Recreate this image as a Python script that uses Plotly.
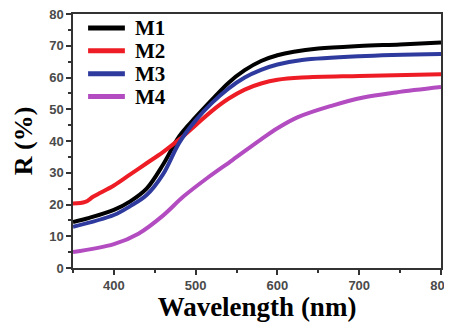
import plotly.graph_objects as go

wl_m1 = [350, 370, 400, 420, 440, 460, 480, 500, 520, 540, 560, 580, 600, 620, 650, 700, 750, 800]
r_m1 = [14.5, 15.8, 18.3, 21, 25, 32.5, 41.5, 47.5, 53, 58.3, 62.3, 65.2, 67, 68.1, 69.1, 69.9, 70.4, 71]

wl_m2 = [350, 365, 375, 400, 420, 440, 460, 480, 500, 520, 540, 560, 580, 600, 630, 700, 800]
r_m2 = [20.3, 20.8, 22.5, 26, 29.5, 33, 36.5, 40.5, 45, 49.5, 53.3, 56.2, 58.1, 59.3, 60, 60.5, 61]

wl_m3 = [350, 400, 420, 440, 460, 480, 500, 520, 540, 560, 580, 600, 630, 700, 800]
r_m3 = [13, 16.7, 19.5, 23, 29.5, 39.5, 46.5, 52, 56.5, 60, 62.4, 64.1, 65.5, 66.7, 67.4]

wl_m4 = [350, 400, 430, 460, 485, 515, 545, 580, 600, 625, 665, 705, 745, 800]
r_m4 = [5, 7.5, 10.8, 16.5, 22.5, 28.5, 34, 40.5, 44, 47.5, 51, 53.7, 55.3, 57]

names = ["M1", "M2", "M3", "M4"]
colors = ["#000000", "#ee1c24", "#2e3a9e", "#b24cc0"]

SERIF = "Liberation Serif, Times New Roman, serif"

fig = go.Figure()
for x, y, n, c in zip([wl_m1, wl_m2, wl_m3, wl_m4], [r_m1, r_m2, r_m3, r_m4], names, colors):
    fig.add_trace(go.Scatter(x=x, y=y, name=n, mode="lines", showlegend=False,
                             line=dict(color=c, width=4, shape="spline", smoothing=1.0)))

# legend drawn as shapes + annotations in axis-domain coordinates
leg_y = [0.945, 0.855, 0.765, 0.675]
for n, c, ly in zip(names, colors, leg_y):
    fig.add_shape(type="line", xref="x domain", yref="y domain",
                  x0=0.041, x1=0.141, y0=ly, y1=ly, line=dict(color=c, width=5))
    fig.add_annotation(xref="x domain", yref="y domain", x=0.163, y=ly,
                       xanchor="left", yanchor="middle", showarrow=False,
                       text="<b>" + n + "</b>",
                       font=dict(family=SERIF, size=21, color="black"))

axis_common = dict(showline=True, linecolor="#333", linewidth=1.5, mirror=True,
                   showgrid=False, zeroline=False, ticks="outside", ticklen=5,
                   tickcolor="#333", tickwidth=1.5, automargin=False,
                   ticklabeloverflow="allow",
                   tickfont=dict(family="Liberation Sans, Arial, sans-serif", size=13, color="#4a4a4a", weight="bold"))

# page body has an 8px margin, so the figure is sized/offset to fill the 452x322 window
fig.update_layout(
    width=444, height=314,
    margin=dict(l=65, r=11, t=6, b=54),
    paper_bgcolor="white", plot_bgcolor="white",
    showlegend=False,
    xaxis=dict(range=[350, 800], tickvals=[400, 500, 600, 700, 800],
               minor=dict(ticks="outside", ticklen=3, tickcolor="#333", dtick=50, tick0=350),
               title=dict(text="<b>Wavelength (nm)</b>", standoff=1,
                          font=dict(family=SERIF, size=27, color="black")),
               **axis_common),
    yaxis=dict(range=[0, 80], dtick=10,
               minor=dict(ticks="outside", ticklen=3, tickcolor="#333", dtick=5, tick0=0),
               title=dict(text="<b>R (%)</b>", standoff=9,
                          font=dict(family=SERIF, size=26, color="black")),
               **axis_common),
)

fig.write_html("out.html")
